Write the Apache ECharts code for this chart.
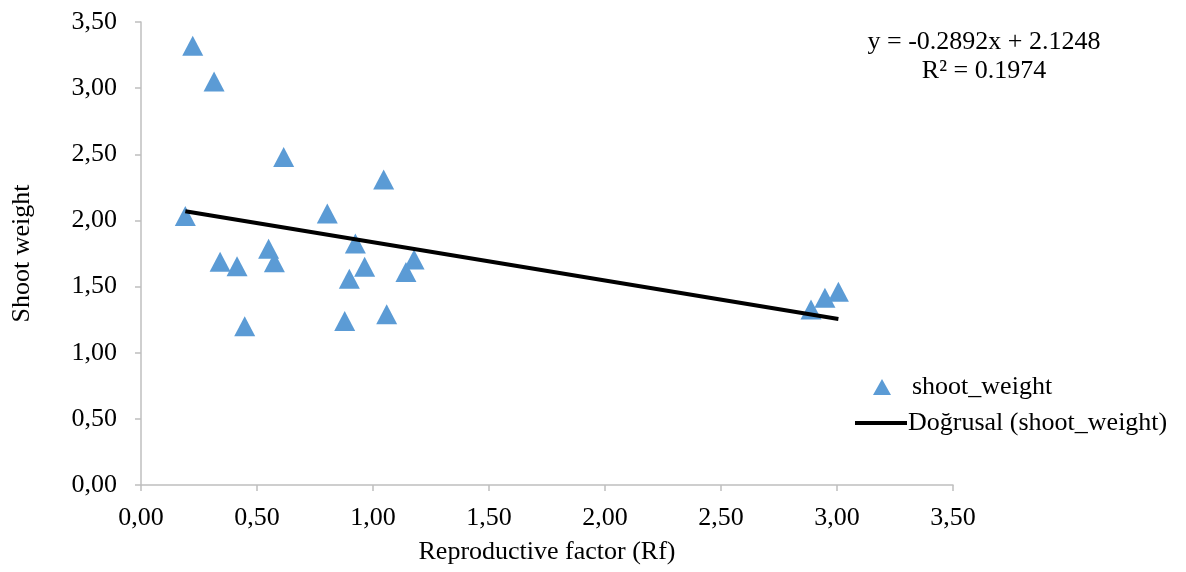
<!DOCTYPE html>
<html>
<head>
<meta charset="utf-8">
<script src="https://cdn.jsdelivr.net/npm/echarts@6/dist/echarts.min.js"></script>
<style>html,body{margin:0;padding:0;background:#fff;}#c{width:1186px;height:572px;}</style>
</head>
<body>
<div id="c"></div>
<script>
// Data
const rfValues = [0.223, 0.315, 0.615, 1.046, 0.191, 0.803, 0.341, 0.414, 0.550, 0.575, 0.447, 0.924, 0.964, 0.898, 1.177, 1.142, 0.878, 1.059, 2.888, 2.948, 3.006];
const shootWeights = [3.32, 3.05, 2.48, 2.31, 2.034, 2.052, 1.687, 1.654, 1.785, 1.684, 1.20, 1.825, 1.65, 1.56, 1.705, 1.61, 1.239, 1.29, 1.327, 1.415, 1.46];
const trendSlope = -0.2892;
const trendIntercept = 2.1248;
const trendR2 = 0.1974;
const seriesNames = ['shoot_weight', 'Doğrusal (shoot_weight)'];
const xTitle = 'Reproductive factor (Rf)';
const yTitle = 'Shoot weight';

const FONT = 'Liberation Serif';
const FS = 26;
const points = rfValues.map((x, i) => [x, shootWeights[i]]);
const xmin = Math.min(...rfValues), xmax = Math.max(...rfValues);
const trend = [[xmin, trendSlope * xmin + trendIntercept], [xmax, trendSlope * xmax + trendIntercept]];
const fmt = v => v.toFixed(2).replace('.', ',');

const chart = echarts.init(document.getElementById('c'));
chart.setOption({
  animation: false,
  backgroundColor: '#fff',
  textStyle: { fontFamily: FONT, color: '#000' },
  grid: { left: 141, right: 233, top: 22, bottom: 87, containLabel: false },
  xAxis: {
    type: 'value', min: 0, max: 3.5, interval: 0.5,
    name: xTitle, nameLocation: 'middle', nameGap: 54,
    nameTextStyle: { fontFamily: FONT, fontSize: FS, color: '#000' },
    axisLine: { show: true, lineStyle: { color: '#bfbfbf', width: 1.5 } },
    axisTick: { show: true, length: 6, lineStyle: { color: '#bfbfbf', width: 1.5 } },
    axisLabel: { fontFamily: FONT, fontSize: FS, color: '#000', margin: 20, formatter: fmt },
    splitLine: { show: false }
  },
  yAxis: {
    type: 'value', min: 0, max: 3.5, interval: 0.5,
    name: yTitle, nameLocation: 'middle', nameGap: 106, nameRotate: 90,
    nameTextStyle: { fontFamily: FONT, fontSize: FS, color: '#000' },
    axisLine: { show: true, lineStyle: { color: '#bfbfbf', width: 1.5 } },
    axisTick: { show: true, length: 6, lineStyle: { color: '#bfbfbf', width: 1.5 } },
    axisLabel: { fontFamily: FONT, fontSize: FS, color: '#000', margin: 24, formatter: fmt },
    splitLine: { show: false }
  },
  legend: [
    {
      data: [{ name: seriesNames[0], icon: 'triangle' }],
      left: 873, top: 374, padding: 0,
      itemWidth: 18, itemHeight: 16,
      textStyle: { fontFamily: FONT, fontSize: FS, color: '#000', padding: [0, 0, 0, 16] }
    },
    {
      data: [{ name: seriesNames[1], icon: 'rect' }],
      left: 855, top: 410, padding: 0,
      itemWidth: 52, itemHeight: 4,
      textStyle: { fontFamily: FONT, fontSize: FS, color: '#000', padding: [0, 0, 0, -4] }
    }
  ],
  graphic: [
    { type: 'text', x: 984, y: 42, style: { text: 'y = ' + trendSlope.toFixed(4) + 'x + ' + trendIntercept.toFixed(4), font: FS + 'px "' + FONT + '"', fill: '#000', align: 'center', verticalAlign: 'middle' } },
    { type: 'text', x: 984, y: 71, style: { text: 'R² = ' + trendR2.toFixed(4), font: FS + 'px "' + FONT + '"', fill: '#000', align: 'center', verticalAlign: 'middle' } }
  ],
  series: [
    {
      name: seriesNames[0], type: 'scatter', data: points,
      symbol: 'triangle', symbolSize: [21, 20],
      itemStyle: { color: '#5B9BD5', opacity: 1 }, z: 2
    },
    {
      name: seriesNames[1], type: 'line', data: trend,
      symbol: 'none', showSymbol: false,
      lineStyle: { color: '#000', width: 4 },
      itemStyle: { color: '#000' }, z: 3
    }
  ]
});
</script>
</body>
</html>
